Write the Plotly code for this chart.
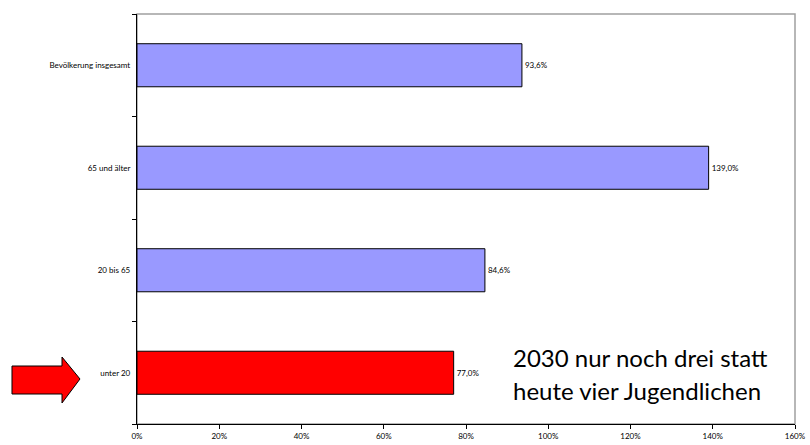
import plotly.graph_objects as go

categories = ["unter 20", "20 bis 65", "65 und älter", "Bevölkerung insgesamt"]
values = [77.0, 84.6, 139.0, 93.6]
labels = ["77,0%", "84,6%", "139,0%", "93,6%"]
colors = ["#FF0000", "#9999FF", "#9999FF", "#9999FF"]
tick_vals = [0, 20, 40, 60, 80, 100, 120, 140, 160]
tick_text = [f"{v}%" for v in tick_vals]
note_lines = ["2030 nur noch drei statt", "heute vier Jugendlichen"]

W, H = 810, 445
# plot area in page pixels: x 137..795, y 14..424
L, R, T, B = 137, 810 - 795, 14, 445 - 424
pw, ph = W - L - R, H - T - B

def px(x):
    return (x - L) / pw

def py(y):
    return (H - B - y) / ph

fig = go.Figure()
fig.add_trace(go.Bar(
    y=categories, x=values, orientation="h",
    marker=dict(color=colors, line=dict(color="#000000", width=1)),
    text=labels, textposition="outside", cliponaxis=False,
    textfont=dict(size=8, color="#000000"),
    hoverinfo="skip",
))

# gray frame (top/right)
fig.add_shape(type="rect", xref="paper", yref="paper", x0=0, x1=1, y0=0, y1=1,
              line=dict(color="#A0A0A0", width=1.5), layer="below")

# arrow
pts = [(12, 366), (62, 366), (62, 357), (80, 379), (62, 403), (62, 394), (12, 394)]
path = "M " + " L ".join(f"{px(x):.5f},{py(y):.5f}" for x, y in pts) + " Z"
fig.add_shape(type="path", xref="paper", yref="paper", path=path,
              fillcolor="#FF0000", line=dict(color="#000000", width=1))

for i, line in enumerate(note_lines):
    fig.add_annotation(xref="paper", yref="paper", x=px(511), y=py(357 + i * 33),
                       xanchor="left", yanchor="middle", showarrow=False,
                       text=line, font=dict(size=24, color="#000000"))

fig.update_layout(
    width=W, height=H, margin=dict(l=L, r=R, t=T, b=B, autoexpand=False),
    paper_bgcolor="white", plot_bgcolor="white",
    font=dict(family="Lato, Liberation Sans, sans-serif", color="#000000"),
    showlegend=False, bargap=0.58,
    xaxis=dict(range=[0, 160], tickvals=tick_vals, ticktext=tick_text,
               showgrid=False, zeroline=False, showline=True, linecolor="#000000",
               linewidth=1.2, ticks="outside", ticklen=4, tickcolor="#000000",
               tickfont=dict(size=8), automargin=False),
    yaxis=dict(categoryorder="array", categoryarray=categories,
               showgrid=False, zeroline=False, showline=True, linecolor="#000000",
               linewidth=1.2, ticks="outside", ticklen=4, tickcolor="#000000",
               tickson="boundaries", tickfont=dict(size=8), ticksuffix="  ",
               automargin=False),
)

fig.write_html(
    "out.html",
    config={"displayModeBar": False},
    post_script="document.body.style.margin='0';document.body.style.overflow='hidden';",
)
